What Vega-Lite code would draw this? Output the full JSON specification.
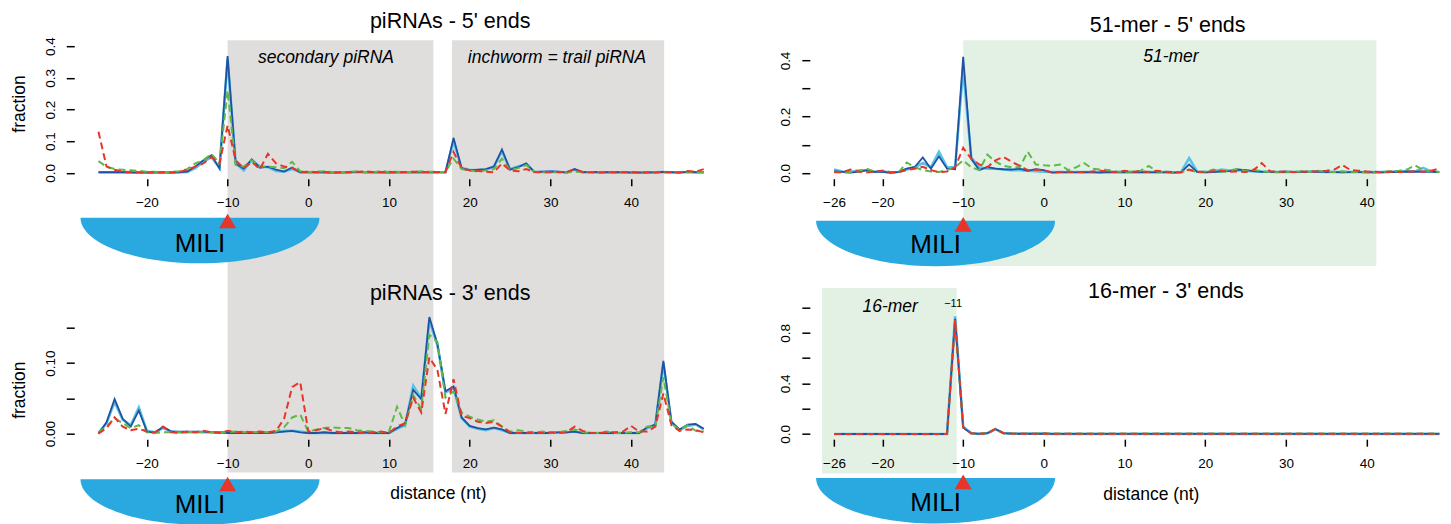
{
"$schema":"https://vega.github.io/schema/vega-lite/v6.json",
"padding":{"left":9.25,"top":10.2,"right":0,"bottom":0},
"config":{
 "view":{"stroke":null},
 "font":"Liberation Sans",
 "axis":{"domain":false,"grid":false,"zindex":1,"tickColor":"#000","tickWidth":1.5,"labelColor":"#000","labelFont":"Liberation Sans","labelFontSize":13.5,"titleFont":"Liberation Sans","titleFontSize":17.5,"titleFontWeight":"normal","titleColor":"#000","labelOverlap":false,"labelFlush":false,"labelBound":false},
 "axisX":{"tickSize":7,"labelPadding":21.2,"labelBaseline":"alphabetic","labelAngle":0,"titleBaseline":"middle","titleAlign":"center"},
 "axisY":{"tickSize":8,"labelPadding":12,"labelAngle":270,"labelAlign":"center","labelBaseline":"alphabetic","titleAngle":270,"titleBaseline":"middle","titleAlign":"center"},
 "title":{"font":"Liberation Sans","fontSize":21.5,"fontWeight":"normal","color":"#000","baseline":"alphabetic","frame":"group","anchor":"middle"}
},
"datasets":{
"tl":[
{"d":-26,"blue":0.002,"cyan":0.002,"green":0.037,"red":0.13},
{"d":-25,"blue":0.002,"cyan":0.002,"green":0.02,"red":0.02},
{"d":-24,"blue":0.002,"cyan":0.002,"green":0.012,"red":0.01},
{"d":-23,"blue":0.002,"cyan":0.002,"green":0.01,"red":0.004},
{"d":-22,"blue":0.001,"cyan":0.002,"green":0.008,"red":0.003},
{"d":-21,"blue":0.001,"cyan":0.002,"green":0.006,"red":0.002},
{"d":-20,"blue":0.001,"cyan":0.002,"green":0.004,"red":0.001},
{"d":-19,"blue":0.001,"cyan":0.002,"green":0.004,"red":0.002},
{"d":-18,"blue":0.001,"cyan":0.002,"green":0.002,"red":0.002},
{"d":-17,"blue":0.001,"cyan":0.002,"green":0.003,"red":0.001},
{"d":-16,"blue":0.002,"cyan":0.002,"green":0.005,"red":0.003},
{"d":-15,"blue":0.004,"cyan":0.003,"green":0.012,"red":0.01},
{"d":-14,"blue":0.02,"cyan":0.015,"green":0.03,"red":0.02},
{"d":-13,"blue":0.04,"cyan":0.035,"green":0.04,"red":0.03},
{"d":-12,"blue":0.056,"cyan":0.05,"green":0.06,"red":0.05},
{"d":-11,"blue":0.014,"cyan":0.015,"green":0.03,"red":0.03},
{"d":-10,"blue":0.369,"cyan":0.36,"green":0.26,"red":0.15},
{"d":-9,"blue":0.03,"cyan":0.03,"green":0.025,"red":0.04},
{"d":-8,"blue":0.014,"cyan":0.008,"green":0.02,"red":0.015},
{"d":-7,"blue":0.043,"cyan":0.04,"green":0.04,"red":0.035},
{"d":-6,"blue":0.016,"cyan":0.02,"green":0.02,"red":0.012},
{"d":-5,"blue":0.02,"cyan":0.018,"green":0.02,"red":0.06},
{"d":-4,"blue":0.01,"cyan":0.006,"green":0.018,"red":0.03},
{"d":-3,"blue":0.004,"cyan":0.004,"green":0.015,"red":0.02},
{"d":-2,"blue":0.017,"cyan":0.012,"green":0.035,"red":0.015},
{"d":-1,"blue":0.002,"cyan":0.002,"green":0.005,"red":0.003},
{"d":0,"blue":0.002,"cyan":0.002,"green":0.003,"red":0.004},
{"d":1,"blue":0.002,"cyan":0.002,"green":0.004,"red":0.002},
{"d":2,"blue":0.002,"cyan":0.002,"green":0.005,"red":0.002},
{"d":3,"blue":0.001,"cyan":0.002,"green":0.003,"red":0.001},
{"d":4,"blue":0.001,"cyan":0.002,"green":0.002,"red":0.002},
{"d":5,"blue":0.002,"cyan":0.002,"green":0.003,"red":0.002},
{"d":6,"blue":0.003,"cyan":0.002,"green":0.005,"red":0.003},
{"d":7,"blue":0.002,"cyan":0.002,"green":0.003,"red":0.005},
{"d":8,"blue":0.002,"cyan":0.002,"green":0.002,"red":0.003},
{"d":9,"blue":0.002,"cyan":0.002,"green":0.006,"red":0.002},
{"d":10,"blue":0.001,"cyan":0.002,"green":0.003,"red":0.004},
{"d":11,"blue":0.002,"cyan":0.002,"green":0.004,"red":0.002},
{"d":12,"blue":0.002,"cyan":0.002,"green":0.002,"red":0.002},
{"d":13,"blue":0.002,"cyan":0.002,"green":0.003,"red":0.004},
{"d":14,"blue":0.002,"cyan":0.002,"green":0.005,"red":0.003},
{"d":15,"blue":0.002,"cyan":0.002,"green":0.004,"red":0.002},
{"d":16,"blue":0.002,"cyan":0.002,"green":0.003,"red":0.003},
{"d":17,"blue":0.002,"cyan":0.002,"green":0.003,"red":0.003},
{"d":18,"blue":0.11,"cyan":0.1,"green":0.045,"red":0.066},
{"d":19,"blue":0.015,"cyan":0.015,"green":0.012,"red":0.015},
{"d":20,"blue":0.008,"cyan":0.01,"green":0.008,"red":0.008},
{"d":21,"blue":0.01,"cyan":0.008,"green":0.004,"red":0.006},
{"d":22,"blue":0.012,"cyan":0.01,"green":0.008,"red":0.004},
{"d":23,"blue":0.02,"cyan":0.02,"green":0.012,"red":0.002},
{"d":24,"blue":0.074,"cyan":0.068,"green":0.045,"red":0.03},
{"d":25,"blue":0.01,"cyan":0.012,"green":0.008,"red":0.008},
{"d":26,"blue":0.018,"cyan":0.02,"green":0.015,"red":0.005},
{"d":27,"blue":0.03,"cyan":0.028,"green":0.025,"red":0.012},
{"d":28,"blue":0.003,"cyan":0.003,"green":0.004,"red":0.003},
{"d":29,"blue":0.004,"cyan":0.003,"green":0.002,"red":0.002},
{"d":30,"blue":0.005,"cyan":0.004,"green":0.003,"red":0.002},
{"d":31,"blue":0.004,"cyan":0.003,"green":0.002,"red":0.003},
{"d":32,"blue":0.001,"cyan":0.002,"green":0.001,"red":0.002},
{"d":33,"blue":0.012,"cyan":0.01,"green":0.004,"red":0.012},
{"d":34,"blue":0.002,"cyan":0.002,"green":0.002,"red":0.003},
{"d":35,"blue":0.003,"cyan":0.002,"green":0.002,"red":0.002},
{"d":36,"blue":0.002,"cyan":0.002,"green":0.002,"red":0.001},
{"d":37,"blue":0.002,"cyan":0.002,"green":0.002,"red":0.002},
{"d":38,"blue":0.002,"cyan":0.002,"green":0.002,"red":0.002},
{"d":39,"blue":0.002,"cyan":0.002,"green":0.003,"red":0.002},
{"d":40,"blue":0.001,"cyan":0.002,"green":0.002,"red":0.003},
{"d":41,"blue":0.001,"cyan":0.002,"green":0.002,"red":0.001},
{"d":42,"blue":0.001,"cyan":0.002,"green":0.001,"red":0.002},
{"d":43,"blue":0.002,"cyan":0.002,"green":0.002,"red":0.001},
{"d":44,"blue":0.003,"cyan":0.003,"green":0.002,"red":0.002},
{"d":45,"blue":0.002,"cyan":0.002,"green":0.001,"red":0.003},
{"d":46,"blue":0.001,"cyan":0.002,"green":0.002,"red":0.001},
{"d":47,"blue":0.003,"cyan":0.003,"green":0.002,"red":0.006},
{"d":48,"blue":0.002,"cyan":0.002,"green":0.002,"red":0.004},
{"d":49,"blue":0.002,"cyan":0.002,"green":0.002,"red":0.012}
],
"bl":[
{"d":-26,"blue":0.0,"cyan":0.001,"green":0.002,"red":0.0},
{"d":-25,"blue":0.016,"cyan":0.015,"green":0.01,"red":0.008},
{"d":-24,"blue":0.049,"cyan":0.045,"green":0.022,"red":0.023},
{"d":-23,"blue":0.021,"cyan":0.02,"green":0.015,"red":0.01},
{"d":-22,"blue":0.01,"cyan":0.012,"green":0.008,"red":0.005},
{"d":-21,"blue":0.033,"cyan":0.037,"green":0.012,"red":0.007},
{"d":-20,"blue":0.003,"cyan":0.004,"green":0.002,"red":0.003},
{"d":-19,"blue":0.001,"cyan":0.002,"green":0.001,"red":0.002},
{"d":-18,"blue":0.01,"cyan":0.008,"green":0.002,"red":0.01},
{"d":-17,"blue":0.003,"cyan":0.003,"green":0.002,"red":0.002},
{"d":-16,"blue":0.003,"cyan":0.002,"green":0.002,"red":0.001},
{"d":-15,"blue":0.003,"cyan":0.002,"green":0.002,"red":0.003},
{"d":-14,"blue":0.003,"cyan":0.002,"green":0.003,"red":0.002},
{"d":-13,"blue":0.003,"cyan":0.002,"green":0.002,"red":0.004},
{"d":-12,"blue":0.002,"cyan":0.002,"green":0.002,"red":0.002},
{"d":-11,"blue":0.002,"cyan":0.002,"green":0.002,"red":0.001},
{"d":-10,"blue":0.001,"cyan":0.002,"green":0.002,"red":0.004},
{"d":-9,"blue":0.001,"cyan":0.002,"green":0.003,"red":0.002},
{"d":-8,"blue":0.001,"cyan":0.002,"green":0.002,"red":0.003},
{"d":-7,"blue":0.001,"cyan":0.002,"green":0.002,"red":0.002},
{"d":-6,"blue":0.001,"cyan":0.002,"green":0.002,"red":0.003},
{"d":-5,"blue":0.001,"cyan":0.002,"green":0.002,"red":0.002},
{"d":-4,"blue":0.002,"cyan":0.002,"green":0.003,"red":0.004},
{"d":-3,"blue":0.003,"cyan":0.004,"green":0.009,"red":0.021},
{"d":-2,"blue":0.004,"cyan":0.004,"green":0.023,"red":0.066},
{"d":-1,"blue":0.002,"cyan":0.003,"green":0.027,"red":0.073},
{"d":0,"blue":0.001,"cyan":0.001,"green":0.003,"red":0.003},
{"d":1,"blue":0.001,"cyan":0.001,"green":0.006,"red":0.005},
{"d":2,"blue":0.002,"cyan":0.001,"green":0.008,"red":0.008},
{"d":3,"blue":0.001,"cyan":0.001,"green":0.009,"red":0.004},
{"d":4,"blue":0.001,"cyan":0.001,"green":0.008,"red":0.002},
{"d":5,"blue":0.001,"cyan":0.001,"green":0.008,"red":0.003},
{"d":6,"blue":0.001,"cyan":0.001,"green":0.005,"red":0.002},
{"d":7,"blue":0.002,"cyan":0.001,"green":0.004,"red":0.001},
{"d":8,"blue":0.001,"cyan":0.001,"green":0.003,"red":0.002},
{"d":9,"blue":0.001,"cyan":0.001,"green":0.002,"red":0.003},
{"d":10,"blue":0.001,"cyan":0.001,"green":0.003,"red":0.001},
{"d":11,"blue":0.008,"cyan":0.007,"green":0.038,"red":0.01},
{"d":12,"blue":0.014,"cyan":0.012,"green":0.012,"red":0.015},
{"d":13,"blue":0.062,"cyan":0.068,"green":0.055,"red":0.051},
{"d":14,"blue":0.049,"cyan":0.05,"green":0.035,"red":0.03},
{"d":15,"blue":0.165,"cyan":0.16,"green":0.14,"red":0.108},
{"d":16,"blue":0.127,"cyan":0.125,"green":0.13,"red":0.09},
{"d":17,"blue":0.06,"cyan":0.058,"green":0.051,"red":0.028},
{"d":18,"blue":0.067,"cyan":0.065,"green":0.06,"red":0.077},
{"d":19,"blue":0.023,"cyan":0.022,"green":0.03,"red":0.025},
{"d":20,"blue":0.011,"cyan":0.01,"green":0.024,"red":0.022},
{"d":21,"blue":0.008,"cyan":0.007,"green":0.02,"red":0.017},
{"d":22,"blue":0.006,"cyan":0.005,"green":0.017,"red":0.015},
{"d":23,"blue":0.0085,"cyan":0.008,"green":0.019,"red":0.017},
{"d":24,"blue":0.006,"cyan":0.005,"green":0.01,"red":0.01},
{"d":25,"blue":0.001,"cyan":0.001,"green":0.003,"red":0.002},
{"d":26,"blue":0.001,"cyan":0.001,"green":0.005,"red":0.001},
{"d":27,"blue":0.001,"cyan":0.001,"green":0.003,"red":0.001},
{"d":28,"blue":0.001,"cyan":0.001,"green":0.001,"red":0.002},
{"d":29,"blue":0.001,"cyan":0.001,"green":0.003,"red":0.001},
{"d":30,"blue":0.001,"cyan":0.001,"green":0.001,"red":0.002},
{"d":31,"blue":0.002,"cyan":0.002,"green":0.002,"red":0.001},
{"d":32,"blue":0.002,"cyan":0.002,"green":0.004,"red":0.002},
{"d":33,"blue":0.003,"cyan":0.003,"green":0.006,"red":0.01},
{"d":34,"blue":0.001,"cyan":0.001,"green":0.002,"red":0.004},
{"d":35,"blue":0.001,"cyan":0.001,"green":0.001,"red":0.001},
{"d":36,"blue":0.001,"cyan":0.001,"green":0.001,"red":0.001},
{"d":37,"blue":0.001,"cyan":0.001,"green":0.003,"red":0.002},
{"d":38,"blue":0.001,"cyan":0.001,"green":0.001,"red":0.002},
{"d":39,"blue":0.001,"cyan":0.001,"green":0.001,"red":0.003},
{"d":40,"blue":0.001,"cyan":0.001,"green":0.002,"red":0.011},
{"d":41,"blue":0.001,"cyan":0.001,"green":0.002,"red":0.003},
{"d":42,"blue":0.009,"cyan":0.008,"green":0.01,"red":0.003},
{"d":43,"blue":0.013,"cyan":0.012,"green":0.01,"red":0.01},
{"d":44,"blue":0.103,"cyan":0.1,"green":0.08,"red":0.057},
{"d":45,"blue":0.017,"cyan":0.015,"green":0.015,"red":0.012},
{"d":46,"blue":0.006,"cyan":0.005,"green":0.005,"red":0.004},
{"d":47,"blue":0.013,"cyan":0.011,"green":0.012,"red":0.006},
{"d":48,"blue":0.014,"cyan":0.013,"green":0.004,"red":0.005},
{"d":49,"blue":0.007,"cyan":0.006,"green":0.003,"red":0.002}
],
"tr":[
{"d":-26,"blue":0.006,"cyan":0.012,"green":0.004,"red":0.002},
{"d":-25,"blue":0.004,"cyan":0.005,"green":0.002,"red":0.002},
{"d":-24,"blue":0.001,"cyan":0.003,"green":0.001,"red":0.012},
{"d":-23,"blue":0.004,"cyan":0.008,"green":0.006,"red":0.005},
{"d":-22,"blue":0.01,"cyan":0.008,"green":0.015,"red":0.001},
{"d":-21,"blue":0.004,"cyan":0.003,"green":0.005,"red":0.005},
{"d":-20,"blue":0.004,"cyan":0.005,"green":0.008,"red":0.008},
{"d":-19,"blue":0.0,"cyan":0.002,"green":0.002,"red":0.002},
{"d":-18,"blue":0.004,"cyan":0.003,"green":0.001,"red":0.003},
{"d":-17,"blue":0.015,"cyan":0.012,"green":0.037,"red":0.01},
{"d":-16,"blue":0.021,"cyan":0.02,"green":0.02,"red":0.015},
{"d":-15,"blue":0.055,"cyan":0.035,"green":0.01,"red":0.022},
{"d":-14,"blue":0.015,"cyan":0.02,"green":0.005,"red":0.01},
{"d":-13,"blue":0.059,"cyan":0.075,"green":0.003,"red":0.002},
{"d":-12,"blue":0.015,"cyan":0.02,"green":0.01,"red":0.005},
{"d":-11,"blue":0.013,"cyan":0.02,"green":0.02,"red":0.02},
{"d":-10,"blue":0.413,"cyan":0.37,"green":0.045,"red":0.089},
{"d":-9,"blue":0.05,"cyan":0.055,"green":0.02,"red":0.05},
{"d":-8,"blue":0.01,"cyan":0.02,"green":0.01,"red":0.03},
{"d":-7,"blue":0.021,"cyan":0.015,"green":0.065,"red":0.02},
{"d":-6,"blue":0.015,"cyan":0.015,"green":0.04,"red":0.045},
{"d":-5,"blue":0.013,"cyan":0.012,"green":0.025,"red":0.057},
{"d":-4,"blue":0.012,"cyan":0.01,"green":0.02,"red":0.04},
{"d":-3,"blue":0.015,"cyan":0.01,"green":0.02,"red":0.025},
{"d":-2,"blue":0.007,"cyan":0.008,"green":0.075,"red":0.01},
{"d":-1,"blue":0.013,"cyan":0.006,"green":0.03,"red":0.012},
{"d":0,"blue":0.01,"cyan":0.004,"green":0.027,"red":0.008},
{"d":1,"blue":0.001,"cyan":0.003,"green":0.025,"red":0.002},
{"d":2,"blue":0.002,"cyan":0.003,"green":0.03,"red":0.003},
{"d":3,"blue":0.002,"cyan":0.003,"green":0.01,"red":0.004},
{"d":4,"blue":0.002,"cyan":0.003,"green":0.02,"red":0.003},
{"d":5,"blue":0.003,"cyan":0.003,"green":0.035,"red":0.002},
{"d":6,"blue":0.002,"cyan":0.003,"green":0.015,"red":0.005},
{"d":7,"blue":0.001,"cyan":0.003,"green":0.012,"red":0.008},
{"d":8,"blue":0.003,"cyan":0.003,"green":0.01,"red":0.005},
{"d":9,"blue":0.002,"cyan":0.003,"green":0.005,"red":0.003},
{"d":10,"blue":0.002,"cyan":0.003,"green":0.003,"red":0.008},
{"d":11,"blue":0.002,"cyan":0.003,"green":0.005,"red":0.004},
{"d":12,"blue":0.003,"cyan":0.003,"green":0.008,"red":0.006},
{"d":13,"blue":0.002,"cyan":0.003,"green":0.025,"red":0.003},
{"d":14,"blue":0.002,"cyan":0.003,"green":0.005,"red":0.008},
{"d":15,"blue":0.002,"cyan":0.003,"green":0.003,"red":0.004},
{"d":16,"blue":0.001,"cyan":0.002,"green":0.002,"red":0.003},
{"d":17,"blue":0.002,"cyan":0.003,"green":0.003,"red":0.002},
{"d":18,"blue":0.03,"cyan":0.053,"green":0.01,"red":0.012},
{"d":19,"blue":0.003,"cyan":0.004,"green":0.003,"red":0.004},
{"d":20,"blue":0.002,"cyan":0.003,"green":0.005,"red":0.003},
{"d":21,"blue":0.003,"cyan":0.005,"green":0.012,"red":0.006},
{"d":22,"blue":0.005,"cyan":0.012,"green":0.003,"red":0.008},
{"d":23,"blue":0.006,"cyan":0.008,"green":0.008,"red":0.004},
{"d":24,"blue":0.012,"cyan":0.01,"green":0.015,"red":0.005},
{"d":25,"blue":0.01,"cyan":0.008,"green":0.006,"red":0.003},
{"d":26,"blue":0.006,"cyan":0.005,"green":0.012,"red":0.01},
{"d":27,"blue":0.004,"cyan":0.004,"green":0.005,"red":0.035},
{"d":28,"blue":0.003,"cyan":0.004,"green":0.003,"red":0.006},
{"d":29,"blue":0.003,"cyan":0.003,"green":0.002,"red":0.004},
{"d":30,"blue":0.004,"cyan":0.004,"green":0.004,"red":0.005},
{"d":31,"blue":0.003,"cyan":0.003,"green":0.003,"red":0.003},
{"d":32,"blue":0.003,"cyan":0.004,"green":0.006,"red":0.004},
{"d":33,"blue":0.004,"cyan":0.004,"green":0.003,"red":0.005},
{"d":34,"blue":0.005,"cyan":0.004,"green":0.008,"red":0.006},
{"d":35,"blue":0.003,"cyan":0.003,"green":0.004,"red":0.008},
{"d":36,"blue":0.003,"cyan":0.003,"green":0.003,"red":0.012},
{"d":37,"blue":0.002,"cyan":0.003,"green":0.006,"red":0.028},
{"d":38,"blue":0.003,"cyan":0.003,"green":0.002,"red":0.01},
{"d":39,"blue":0.003,"cyan":0.003,"green":0.003,"red":0.008},
{"d":40,"blue":0.002,"cyan":0.003,"green":0.002,"red":0.005},
{"d":41,"blue":0.002,"cyan":0.003,"green":0.001,"red":0.004},
{"d":42,"blue":0.002,"cyan":0.003,"green":0.004,"red":0.002},
{"d":43,"blue":0.003,"cyan":0.004,"green":0.006,"red":0.005},
{"d":44,"blue":0.004,"cyan":0.004,"green":0.008,"red":0.003},
{"d":45,"blue":0.005,"cyan":0.006,"green":0.012,"red":0.004},
{"d":46,"blue":0.004,"cyan":0.005,"green":0.027,"red":0.006},
{"d":47,"blue":0.005,"cyan":0.018,"green":0.01,"red":0.004},
{"d":48,"blue":0.004,"cyan":0.005,"green":0.005,"red":0.008},
{"d":49,"blue":0.003,"cyan":0.003,"green":0.003,"red":0.015}
],
"br":[
{"d":-26,"blue":0,"cyan":0,"green":0,"red":0},
{"d":-25,"blue":0,"cyan":0,"green":0,"red":0},
{"d":-24,"blue":0,"cyan":0,"green":0,"red":0},
{"d":-23,"blue":0,"cyan":0,"green":0,"red":0},
{"d":-22,"blue":0,"cyan":0,"green":0,"red":0},
{"d":-21,"blue":0,"cyan":0,"green":0,"red":0},
{"d":-20,"blue":0,"cyan":0,"green":0,"red":0},
{"d":-19,"blue":0,"cyan":0,"green":0,"red":0},
{"d":-18,"blue":0,"cyan":0,"green":0,"red":0},
{"d":-17,"blue":0,"cyan":0,"green":0,"red":0},
{"d":-16,"blue":0,"cyan":0,"green":0,"red":0},
{"d":-15,"blue":0,"cyan":0,"green":0,"red":0},
{"d":-14,"blue":0,"cyan":0,"green":0,"red":0},
{"d":-13,"blue":0,"cyan":0,"green":0,"red":0},
{"d":-12,"blue":0.001,"cyan":0.001,"green":0.001,"red":0.001},
{"d":-11,"blue":0.91,"cyan":0.93,"green":0.9,"red":0.9},
{"d":-10,"blue":0.05,"cyan":0.055,"green":0.06,"red":0.053},
{"d":-9,"blue":0.006,"cyan":0.005,"green":0.006,"red":0.005},
{"d":-8,"blue":0.001,"cyan":0.001,"green":0.001,"red":0.001},
{"d":-7,"blue":0.006,"cyan":0.006,"green":0.006,"red":0.005},
{"d":-6,"blue":0.04,"cyan":0.038,"green":0.04,"red":0.04},
{"d":-5,"blue":0.006,"cyan":0.006,"green":0.006,"red":0.006},
{"d":-4,"blue":0.003,"cyan":0.003,"green":0.003,"red":0.003},
{"d":-3,"blue":0.002,"cyan":0.002,"green":0.002,"red":0.002},
{"d":-2,"blue":0.002,"cyan":0.002,"green":0.002,"red":0.002},
{"d":-1,"blue":0.002,"cyan":0.002,"green":0.002,"red":0.002},
{"d":0,"blue":0.003,"cyan":0.003,"green":0.003,"red":0.003},
{"d":1,"blue":0.001,"cyan":0.001,"green":0.001,"red":0.001},
{"d":2,"blue":0.001,"cyan":0.001,"green":0.001,"red":0.001},
{"d":3,"blue":0.001,"cyan":0.001,"green":0.001,"red":0.001},
{"d":4,"blue":0.001,"cyan":0.001,"green":0.001,"red":0.001},
{"d":5,"blue":0.001,"cyan":0.001,"green":0.001,"red":0.001},
{"d":6,"blue":0.001,"cyan":0.001,"green":0.001,"red":0.001},
{"d":7,"blue":0.001,"cyan":0.001,"green":0.001,"red":0.001},
{"d":8,"blue":0.001,"cyan":0.001,"green":0.001,"red":0.001},
{"d":9,"blue":0.001,"cyan":0.001,"green":0.001,"red":0.001},
{"d":10,"blue":0.001,"cyan":0.001,"green":0.001,"red":0.001},
{"d":11,"blue":0.001,"cyan":0.001,"green":0.001,"red":0.001},
{"d":12,"blue":0.001,"cyan":0.001,"green":0.001,"red":0.001},
{"d":13,"blue":0.001,"cyan":0.001,"green":0.001,"red":0.001},
{"d":14,"blue":0.001,"cyan":0.001,"green":0.001,"red":0.001},
{"d":15,"blue":0.001,"cyan":0.001,"green":0.001,"red":0.001},
{"d":16,"blue":0.001,"cyan":0.001,"green":0.001,"red":0.001},
{"d":17,"blue":0.001,"cyan":0.001,"green":0.001,"red":0.001},
{"d":18,"blue":0.001,"cyan":0.001,"green":0.001,"red":0.001},
{"d":19,"blue":0.001,"cyan":0.001,"green":0.001,"red":0.001},
{"d":20,"blue":0.001,"cyan":0.001,"green":0.001,"red":0.001},
{"d":21,"blue":0.001,"cyan":0.001,"green":0.001,"red":0.001},
{"d":22,"blue":0.001,"cyan":0.001,"green":0.001,"red":0.001},
{"d":23,"blue":0.001,"cyan":0.001,"green":0.001,"red":0.001},
{"d":24,"blue":0.001,"cyan":0.001,"green":0.001,"red":0.001},
{"d":25,"blue":0.001,"cyan":0.001,"green":0.001,"red":0.001},
{"d":26,"blue":0.001,"cyan":0.001,"green":0.001,"red":0.001},
{"d":27,"blue":0.001,"cyan":0.001,"green":0.001,"red":0.001},
{"d":28,"blue":0.001,"cyan":0.001,"green":0.001,"red":0.001},
{"d":29,"blue":0.001,"cyan":0.001,"green":0.001,"red":0.001},
{"d":30,"blue":0.001,"cyan":0.001,"green":0.001,"red":0.001},
{"d":31,"blue":0.001,"cyan":0.001,"green":0.001,"red":0.001},
{"d":32,"blue":0.001,"cyan":0.001,"green":0.001,"red":0.001},
{"d":33,"blue":0.001,"cyan":0.001,"green":0.001,"red":0.001},
{"d":34,"blue":0.001,"cyan":0.001,"green":0.001,"red":0.001},
{"d":35,"blue":0.001,"cyan":0.001,"green":0.001,"red":0.001},
{"d":36,"blue":0.001,"cyan":0.001,"green":0.001,"red":0.001},
{"d":37,"blue":0.001,"cyan":0.001,"green":0.001,"red":0.001},
{"d":38,"blue":0.001,"cyan":0.001,"green":0.001,"red":0.001},
{"d":39,"blue":0.001,"cyan":0.001,"green":0.001,"red":0.001},
{"d":40,"blue":0.001,"cyan":0.001,"green":0.001,"red":0.001},
{"d":41,"blue":0.001,"cyan":0.001,"green":0.001,"red":0.001},
{"d":42,"blue":0.001,"cyan":0.001,"green":0.001,"red":0.001},
{"d":43,"blue":0.001,"cyan":0.001,"green":0.001,"red":0.001},
{"d":44,"blue":0.001,"cyan":0.001,"green":0.001,"red":0.001},
{"d":45,"blue":0.001,"cyan":0.001,"green":0.001,"red":0.001},
{"d":46,"blue":0.001,"cyan":0.001,"green":0.001,"red":0.001},
{"d":47,"blue":0.001,"cyan":0.001,"green":0.001,"red":0.001},
{"d":48,"blue":0.001,"cyan":0.001,"green":0.001,"red":0.001},
{"d":49,"blue":0.001,"cyan":0.001,"green":0.001,"red":0.001}
]
},
"columns":2,
"spacing":{"row":121.5,"column":81.6},
"bounds":"flush",
"concat":[
{
 "width":653.67,"height":138.5,
 "title":{"text":"piRNAs - 5' ends","dx":49.1,"offset":4.5},
 "data":{"name":"tl"},
 "layer":[
  {"data":{"values":[{"region":"secondary piRNA"}]},"mark":{"type":"rect","color":"#dfdedc","clip":false},
   "encoding":{"x":{"datum":-10,"type":"quantitative"},"x2":{"datum":15.5},"y":{"datum":0.419,"type":"quantitative"},"y2":{"datum":-0.946}}},
  {"data":{"values":[{"region":"inchworm = trail piRNA"}]},"mark":{"type":"rect","color":"#dfdedc","clip":false},
   "encoding":{"x":{"datum":17.8,"type":"quantitative"},"x2":{"datum":44.1},"y":{"datum":0.419,"type":"quantitative"},"y2":{"datum":-0.946}}},
  {"data":{"values":[{"label":"secondary piRNA"}]},"mark":{"type":"text","fontStyle":"italic","fontSize":17.5,"align":"center","baseline":"alphabetic","color":"#000","clip":false},
   "encoding":{"x":{"datum":2.19,"type":"quantitative"},"y":{"datum":0.3464,"type":"quantitative"},"text":{"field":"label"}}},
  {"data":{"values":[{"label":"inchworm = trail piRNA"}]},"mark":{"type":"text","fontStyle":"italic","fontSize":17.5,"align":"center","baseline":"alphabetic","color":"#000","clip":false},
   "encoding":{"x":{"datum":30.82,"type":"quantitative"},"y":{"datum":0.3464,"type":"quantitative"},"text":{"field":"label"}}},
  {"data":{"values":[{"protein":"MILI"}]},"mark":{"type":"point","shape":"M-1,-0.19A1,0.381,0,0,0,1,-0.19Z","size":57121,"filled":true,"color":"#29a9e0","opacity":1,"strokeWidth":0,"clip":false},
   "encoding":{"x":{"datum":-13.42,"type":"quantitative"},"y":{"datum":-0.2135,"type":"quantitative"}}},
  {"data":{"values":[{"site":-10}]},"mark":{"type":"point","shape":"triangle-up","size":289,"filled":true,"color":"#e8352b","opacity":1,"strokeWidth":0,"clip":false},
   "encoding":{"x":{"datum":-10,"type":"quantitative"},"y":{"datum":-0.1519,"type":"quantitative"}}},
  {"data":{"values":[{"label":"MILI"}]},"mark":{"type":"text","fontSize":26,"align":"center","baseline":"alphabetic","color":"#000","clip":false},
   "encoding":{"x":{"datum":-13.42,"type":"quantitative"},"y":{"datum":-0.2494,"type":"quantitative"},"text":{"field":"label"}}},
  {"mark":{"type":"line","color":"#5bc3e8","strokeWidth":2.6},
   "encoding":{
    "x":{"field":"d","type":"quantitative","title":null,"scale":{"domain":[-29,52],"nice":false,"zero":false},"axis":{"zindex":1,"tickCount":50,"labelOverlap":false,"values":[-20,-10,0,10,20,30,40]}},
    "y":{"field":"cyan","type":"quantitative","title":"fraction","scale":{"domain":[-0.01831,0.419],"nice":false,"zero":false},"axis":{"zindex":1,"tickCount":50,"labelOverlap":false,"values":[0,0.1,0.2,0.3,0.4],"labelExpr":"format(datum.value, '.1f')","titleX":-55.05,"titleY":63.3}}}},
  {"mark":{"type":"line","color":"#1f52a3","strokeWidth":1.8},"encoding":{"x":{"field":"d","type":"quantitative"},"y":{"field":"blue","type":"quantitative"}}},
  {"mark":{"type":"line","color":"#5fb946","strokeWidth":2,"strokeDash":[7,4]},"encoding":{"x":{"field":"d","type":"quantitative"},"y":{"field":"green","type":"quantitative"}}},
  {"mark":{"type":"line","color":"#e8352b","strokeWidth":2,"strokeDash":[7,4]},"encoding":{"x":{"field":"d","type":"quantitative"},"y":{"field":"red","type":"quantitative"}}}
 ]
},
{
 "width":653.67,"height":138.5,
 "title":{"text":"51-mer - 5' ends","dx":31,"offset":3.5},
 "data":{"name":"tr"},
 "layer":[
  {"data":{"values":[{"region":"51-mer"}]},"mark":{"type":"rect","color":"#e3f1e5","clip":false},
   "encoding":{"x":{"datum":-10,"type":"quantitative"},"x2":{"datum":41.2},"y":{"datum":0.4722,"type":"quantitative"},"y2":{"datum":-0.331}}},
  {"data":{"values":[{"label":"51-mer"}]},"mark":{"type":"text","fontStyle":"italic","fontSize":17.5,"align":"center","baseline":"alphabetic","color":"#000","clip":false},
   "encoding":{"x":{"datum":15.74,"type":"quantitative"},"y":{"datum":0.395,"type":"quantitative"},"text":{"field":"label"}}},
  {"data":{"values":[{"protein":"MILI"}]},"mark":{"type":"point","shape":"M-1,-0.19A1,0.381,0,0,0,1,-0.19Z","size":57121,"filled":true,"color":"#29a9e0","opacity":1,"strokeWidth":0,"clip":false},
   "encoding":{"x":{"datum":-13.42,"type":"quantitative"},"y":{"datum":-0.2509,"type":"quantitative"}}},
  {"data":{"values":[{"site":-10}]},"mark":{"type":"point","shape":"triangle-up","size":289,"filled":true,"color":"#e8352b","opacity":1,"strokeWidth":0,"clip":false},
   "encoding":{"x":{"datum":-10,"type":"quantitative"},"y":{"datum":-0.1833,"type":"quantitative"}}},
  {"data":{"values":[{"label":"MILI"}]},"mark":{"type":"text","fontSize":26,"align":"center","baseline":"alphabetic","color":"#000","clip":false},
   "encoding":{"x":{"datum":-13.42,"type":"quantitative"},"y":{"datum":-0.2868,"type":"quantitative"},"text":{"field":"label"}}},
  {"mark":{"type":"line","color":"#5bc3e8","strokeWidth":2.6},
   "encoding":{
    "x":{"field":"d","type":"quantitative","title":null,"scale":{"domain":[-29,52],"nice":false,"zero":false},"axis":{"zindex":1,"tickCount":50,"labelOverlap":false,"values":[-26,-20,-10,0,10,20,30,40]}},
    "y":{"field":"cyan","type":"quantitative","title":null,"scale":{"domain":[-0.02064,0.47224],"nice":false,"zero":false},"axis":{"zindex":1,"tickCount":50,"labelOverlap":false,"values":[0,0.1,0.2,0.3,0.4],"labelExpr":"datum.value == 0.1 || datum.value == 0.3 ? '' : format(datum.value, '.1f')"}}}},
  {"mark":{"type":"line","color":"#1f52a3","strokeWidth":1.8},"encoding":{"x":{"field":"d","type":"quantitative"},"y":{"field":"blue","type":"quantitative"}}},
  {"mark":{"type":"line","color":"#5fb946","strokeWidth":2,"strokeDash":[7,4]},"encoding":{"x":{"field":"d","type":"quantitative"},"y":{"field":"green","type":"quantitative"}}},
  {"mark":{"type":"line","color":"#e8352b","strokeWidth":2,"strokeDash":[7,4]},"encoding":{"x":{"field":"d","type":"quantitative"},"y":{"field":"red","type":"quantitative"}}}
 ]
},
{
 "width":653.67,"height":138.5,
 "title":{"text":"piRNAs - 3' ends","dx":49.1,"offset":-4.2},
 "data":{"name":"bl"},
 "layer":[
  {"data":{"values":[{"protein":"MILI"}]},"mark":{"type":"point","shape":"M-1,-0.19A1,0.381,0,0,0,1,-0.19Z","size":57121,"filled":true,"color":"#29a9e0","opacity":1,"strokeWidth":0,"clip":false},
   "encoding":{"x":{"datum":-13.42,"type":"quantitative"},"y":{"datum":-0.0965,"type":"quantitative"}}},
  {"data":{"values":[{"site":-10}]},"mark":{"type":"point","shape":"triangle-up","size":289,"filled":true,"color":"#e8352b","opacity":1,"strokeWidth":0,"clip":false},
   "encoding":{"x":{"datum":-10,"type":"quantitative"},"y":{"datum":-0.0712,"type":"quantitative"}}},
  {"data":{"values":[{"label":"MILI"}]},"mark":{"type":"text","fontSize":26,"align":"center","baseline":"alphabetic","color":"#000","clip":false},
   "encoding":{"x":{"datum":-13.42,"type":"quantitative"},"y":{"datum":-0.1128,"type":"quantitative"},"text":{"field":"label"}}},
  {"mark":{"type":"line","color":"#5bc3e8","strokeWidth":2.6},
   "encoding":{
    "x":{"field":"d","type":"quantitative","title":"distance (nt)","scale":{"domain":[-29,52],"nice":false,"zero":false},"axis":{"zindex":1,"tickCount":50,"labelOverlap":false,"values":[-20,-10,0,10,20,30,40],"titleX":363.7,"titleY":54.5}},
    "y":{"field":"cyan","type":"quantitative","title":"fraction","scale":{"domain":[-0.00778,0.1882],"nice":false,"zero":false},"axis":{"zindex":1,"tickCount":50,"labelOverlap":false,"values":[0,0.05,0.1,0.15],"labelExpr":"datum.value == 0 ? '0.00' : datum.value == 0.1 ? '0.10' : ''","titleX":-55.05,"titleY":89}}}},
  {"mark":{"type":"line","color":"#1f52a3","strokeWidth":1.8},"encoding":{"x":{"field":"d","type":"quantitative"},"y":{"field":"blue","type":"quantitative"}}},
  {"mark":{"type":"line","color":"#5fb946","strokeWidth":2,"strokeDash":[7,4]},"encoding":{"x":{"field":"d","type":"quantitative"},"y":{"field":"green","type":"quantitative"}}},
  {"mark":{"type":"line","color":"#e8352b","strokeWidth":2,"strokeDash":[7,4]},"encoding":{"x":{"field":"d","type":"quantitative"},"y":{"field":"red","type":"quantitative"}}}
 ]
},
{
 "width":653.67,"height":138.5,
 "title":{"text":"16-mer - 3' ends","dx":29.3,"offset":-14.8},
 "data":{"name":"br"},
 "layer":[
  {"data":{"values":[{"region":"16-mer"}]},"mark":{"type":"rect","color":"#e3f1e5","clip":false},
   "encoding":{"x":{"datum":-27.5,"type":"quantitative"},"x2":{"datum":-10.8},"y":{"datum":1.154,"type":"quantitative"},"y2":{"datum":-0.3115}}},
  {"data":{"values":[{"label":"16-mer"}]},"mark":{"type":"text","fontStyle":"italic","fontSize":17.5,"align":"center","baseline":"alphabetic","color":"#000","clip":false},
   "encoding":{"x":{"datum":-19.05,"type":"quantitative"},"y":{"datum":0.961,"type":"quantitative"},"text":{"field":"label"}}},
  {"data":{"values":[{"label":"−11"}]},"mark":{"type":"text","fontSize":11,"align":"center","baseline":"alphabetic","color":"#000","clip":false},
   "encoding":{"x":{"datum":-11.25,"type":"quantitative"},"y":{"datum":1.0008,"type":"quantitative"},"text":{"field":"label"}}},
  {"data":{"values":[{"protein":"MILI"}]},"mark":{"type":"point","shape":"M-1,-0.19A1,0.381,0,0,0,1,-0.19Z","size":57121,"filled":true,"color":"#29a9e0","opacity":1,"strokeWidth":0,"clip":false},
   "encoding":{"x":{"datum":-13.42,"type":"quantitative"},"y":{"datum":-0.5273,"type":"quantitative"}}},
  {"data":{"values":[{"site":-10}]},"mark":{"type":"point","shape":"triangle-up","size":289,"filled":true,"color":"#e8352b","opacity":1,"strokeWidth":0,"clip":false},
   "encoding":{"x":{"datum":-10,"type":"quantitative"},"y":{"datum":-0.3787,"type":"quantitative"}}},
  {"data":{"values":[{"label":"MILI"}]},"mark":{"type":"text","fontSize":26,"align":"center","baseline":"alphabetic","color":"#000","clip":false},
   "encoding":{"x":{"datum":-13.42,"type":"quantitative"},"y":{"datum":-0.6119,"type":"quantitative"},"text":{"field":"label"}}},
  {"mark":{"type":"line","color":"#5bc3e8","strokeWidth":2.6},
   "encoding":{
    "x":{"field":"d","type":"quantitative","title":"distance (nt)","scale":{"domain":[-29,52],"nice":false,"zero":false},"axis":{"zindex":1,"tickCount":50,"labelOverlap":false,"values":[-26,-20,-10,0,10,20,30,40],"titleX":341,"titleY":55.5}},
    "y":{"field":"cyan","type":"quantitative","title":null,"scale":{"domain":[-0.04111,1.05375],"nice":false,"zero":false},"axis":{"zindex":1,"tickCount":50,"labelOverlap":false,"values":[0,0.2,0.4,0.6,0.8,1],"labelExpr":"datum.value == 0.2 || datum.value == 0.6 || datum.value == 1 ? '' : format(datum.value, '.1f')"}}}},
  {"mark":{"type":"line","color":"#1f52a3","strokeWidth":1.8},"encoding":{"x":{"field":"d","type":"quantitative"},"y":{"field":"blue","type":"quantitative"}}},
  {"mark":{"type":"line","color":"#5fb946","strokeWidth":2,"strokeDash":[7,4]},"encoding":{"x":{"field":"d","type":"quantitative"},"y":{"field":"green","type":"quantitative"}}},
  {"mark":{"type":"line","color":"#e8352b","strokeWidth":2,"strokeDash":[7,4]},"encoding":{"x":{"field":"d","type":"quantitative"},"y":{"field":"red","type":"quantitative"}}}
 ]
}
]
}
